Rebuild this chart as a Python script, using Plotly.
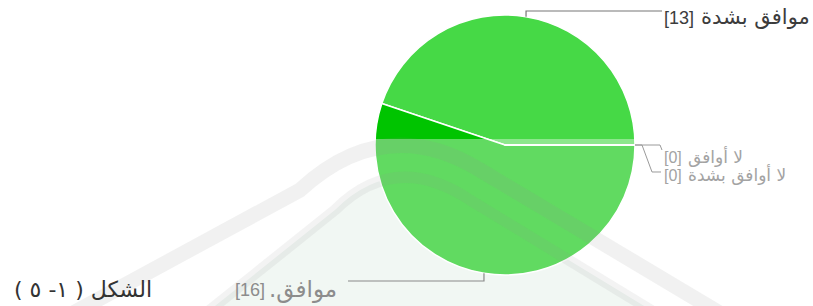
import math
import plotly.graph_objects as go

# ---------------- data ----------------
labels = ["موافق بشدة", "موافق.", "لا أوافق", "لا أوافق بشدة"]
values = [13, 16, 0, 0]
colors = ["#46d946", "#00c400", "#3366cc", "#dc3912"]
caption = "الشكل ( ١- ٥ )"

# ---------------- geometry ----------------
W, H = 813, 306
CX, CY, R = 505, 145, 130          # pie centre / radius in pixels
RLE, PDF = "\u202B", "\u202C"       # right-to-left embedding
LATIN = "Liberation Sans, Arial, sans-serif"
ARABIC = "DejaVu Sans, sans-serif"
ARIAL_W = {"[": 0.278, "]": 0.278, " ": 0.278}


def text_w(s, size):
    return sum(ARIAL_W.get(ch, 0.556) for ch in s) * size


def fx(x):
    return x / W


def fy(y):
    return 1 - y / H


def path(cmds):
    out = []
    for c in cmds:
        if isinstance(c, str):
            out.append(c)
        else:
            out.append(f"{fx(c[0]):.5f},{fy(c[1]):.5f}")
    return " ".join(out)


def ann(x, y, text, size, color, family, anchor):
    return dict(x=fx(x), y=fy(y), xref="paper", yref="paper", text=text,
                showarrow=False, xanchor=anchor, yanchor="middle",
                font=dict(size=size, color=color, family=family))


def label_left(x, y, lab, v, nsize, asize, color):
    """'[v]' on the left, Arabic label to its right (RTL reading)."""
    num = f"[{v}]"
    out = [ann(x, y, num, nsize, color, LATIN, "left")]
    out.append(ann(x + text_w(num, nsize) + 0.4 * nsize, y - 1,
                   RLE + lab + PDF, asize, color, ARABIC, "left"))
    return out


total = sum(values)
# plotly (counterclockwise): first slice ends at `rotation` (clockwise from 12 o'clock);
# we want the first slice to start at 3 o'clock and sweep counterclockwise.
rotation = 90 - 360 * values[0] / total

fig = go.Figure(go.Pie(
    labels=labels, values=values, sort=False,
    direction="counterclockwise", rotation=rotation,
    marker=dict(colors=colors, line=dict(color="white", width=1.5)),
    textinfo="none", hoverinfo="label+value", showlegend=False,
    domain=dict(x=[fx(CX - R), fx(CX + R)], y=[fy(CY + R), fy(CY - R)]),
))

shapes = []
# --- watermark (semi-transparent logo arcs laid over the lower part) ---
band2 = ["M", (185, 330), "L", (335, 210), "Q", (395, 150), (470, 200), "L", (700, 340)]
shapes.append(dict(type="path", xref="paper", yref="paper", layer="below",
                   path=path(band2 + ["L", (760, 420), "L", (120, 420), "Z"]),
                   line=dict(width=0), fillcolor="#e8f2ec"))
shapes.append(dict(type="rect", xref="paper", yref="paper", layer="above",
                   x0=0, x1=1, y0=-0.1, y1=fy(139), line=dict(width=0),
                   fillcolor="rgba(255,255,255,0.38)"))
band1 = ["M", (40, 331), "L", (300, 190), "Q", (385, 112), (480, 170), "L", (790, 355)]
shapes.append(dict(type="path", xref="paper", yref="paper", layer="above",
                   path=path(band1), line=dict(color="rgba(150,150,150,0.13)", width=15)))
shapes.append(dict(type="path", xref="paper", yref="paper", layer="above",
                   path=path(band2), line=dict(color="rgba(150,150,150,0.11)", width=11)))

# --- leader lines and labels, from slice angles ---
annotations = []
cum = 0
zero_idx = 0
for lab, v in zip(labels, values):
    mid = 360 * (cum + v / 2) / total
    cum += v
    ex = CX + R * math.cos(math.radians(mid))
    ey = CY - R * math.sin(math.radians(mid))
    if v == 0:
        if zero_idx == 0:
            pts = ["M", (ex, ey), "L", (ex + 25, ey), "L", (ex + 27, ey + 5)]
            ty = ey + 12
        else:
            pts = ["M", (ex, ey), "L", (ex + 7, ey), "L", (ex + 17, ey + 27), "L", (ex + 26, ey + 27)]
            ty = ey + 30
        zero_idx += 1
        shapes.append(dict(type="path", xref="paper", yref="paper",
                           path=path(pts), line=dict(color="#9a9a9a", width=1)))
        annotations += label_left(ex + 27, ty, lab, v, 16, 17, "#a3a3a3")
    elif 0 < mid < 180:
        top = CY - R - 4
        endx = CX + R + 27
        shapes.append(dict(type="path", xref="paper", yref="paper",
                           path=path(["M", (ex, ey), "L", (ex, top), "L", (endx, top)]),
                           line=dict(color="#777777", width=1.2)))
        annotations += label_left(endx, top + 7, lab, v, 18, 21, "#3c3c3c")
    else:
        bot = CY + R + 6
        endx = CX - R - 27
        shapes.append(dict(type="path", xref="paper", yref="paper",
                           path=path(["M", (ex, ey), "L", (ex, bot), "L", (endx, bot)]),
                           line=dict(color="#8a8a8a", width=1.2)))
        ax = endx - 9
        annotations.append(ann(ax, bot + 8, RLE + lab + PDF, 23, "#8c8c8c", ARABIC, "right"))
        annotations.append(ann(ax - 72, bot + 9, f"[{v}]", 18, "#8c8c8c", LATIN, "right"))

annotations.append(ann(12, 289, RLE + caption + PDF, 22, "#333333", "DejaVu Sans, serif", "left"))

fig.update_layout(
    width=W, height=H, margin=dict(l=0, r=0, t=0, b=0),
    paper_bgcolor="white", plot_bgcolor="white",
    shapes=shapes, annotations=annotations, showlegend=False,
)

fig.write_html("out.html", config={"displayModeBar": False},
               post_script="document.body.style.margin='0px';")
